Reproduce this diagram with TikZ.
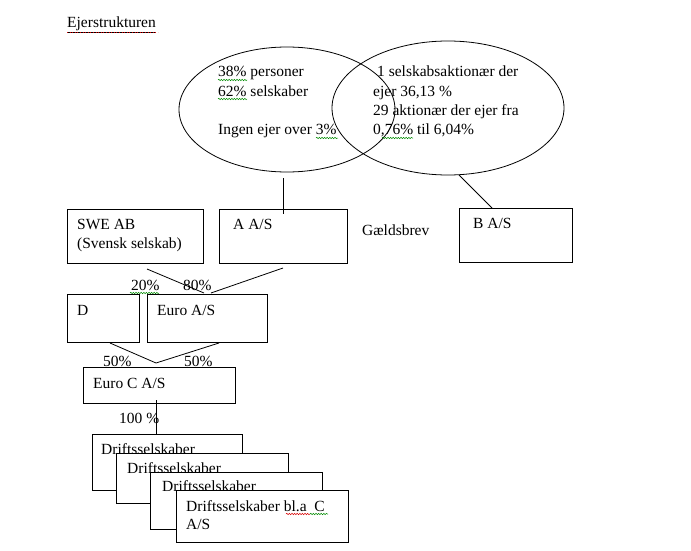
\documentclass[tikz,border=0pt]{standalone}
\usepackage{fontspec}
\setmainfont{Liberation Serif}
\usetikzlibrary{shapes.geometric,decorations.pathmorphing}
\begin{document}
\begin{tikzpicture}[x=1pt,y=-1pt,
  txt/.style={anchor=base west,inner sep=0pt,font=\fontsize{15.5}{19}\selectfont},
  boxs/.style={draw,line width=0.8pt,rectangle,inner sep=0pt,anchor=north west},
  dbox/.style={boxs,fill=white},
  oval/.style={draw,line width=0.8pt,ellipse,inner sep=0pt},
  conn/.style={line width=0.8pt},
  sqg/.style={draw=green!55!black,line width=0.5pt,decorate,decoration={snake,segment length=2.6pt,amplitude=0.7pt}},
  sqr/.style={draw=red!85!black,line width=0.5pt,decorate,decoration={snake,segment length=2.6pt,amplitude=0.7pt}}
]
\useasboundingbox[fill=white] (0,0) rectangle (691,551);

% title
\node[txt] (title) at (67,28) {\underline{Ejerstrukturen}};
\draw[red!85!black,line width=0.6pt,dotted] (67,32) -- (158,32);

% ellipses
\node[oval,minimum width=216,minimum height=125] (e1) at (287,109.5) {};
\node[oval,minimum width=232,minimum height=134] (e2) at (448,108) {};

\node[txt] (t1) at (218,77) {38\% personer};
\node[txt] (t2) at (218,96) {62\% selskaber};
\node[txt] (t3) at (218,134) {Ingen ejer over 3\%};
\node[txt] (u1) at (377,77) {1 selskabsaktionær der};
\node[txt] (u2) at (373,96) {ejer 36,13 \%};
\node[txt] (u3) at (373,115) {29 aktionær der ejer fra};
\node[txt] (u4) at (373,134) {0,76\% til 6,04\%};

% boxes row 1
\node[boxs,minimum width=136,minimum height=54] (swe) at (67,209) {};
\node[txt] (swet) at (77,229) {SWE AB};
\node[txt] (swet2) at (77,248) {(Svensk selskab)};
\node[boxs,minimum width=128,minimum height=54] (aas) at (219,209) {};
\node[txt] (aast) at (233,229) {A A/S};
\node[txt] (gld) at (362,235) {Gældsbrev};
\node[boxs,minimum width=113,minimum height=54] (bas) at (459,208) {};
\node[txt] (bast) at (473,228) {B A/S};

% row 2
\node[txt] (p20) at (131,290) {20\%};
\node[txt] (p80) at (183,290) {80\%};
\node[boxs,minimum width=72,minimum height=48] (dd) at (67,294) {};
\node[txt] (ddt) at (77,315) {D};
\node[boxs,minimum width=120,minimum height=48] (euro) at (147,294) {};
\node[txt] (eurot) at (157,315) {Euro A/S};

% row 3
\node[txt] (p50a) at (103,366) {50\%};
\node[txt] (p50b) at (184,366) {50\%};
\node[boxs,minimum width=152,minimum height=36] (euroc) at (83,367) {};
\node[txt] (euroct) at (93,388) {Euro C A/S};
\node[txt] (p100) at (119,423) {100 \%};

% connector coordinates
\coordinate (c1a) at (283,178);
\coordinate (c1b) at (283,214);
\coordinate (c2a) at (459,175);
\coordinate (c2b) at (492,208);
\coordinate (c3a) at (147,269);
\coordinate (c3b) at (204,293);
\coordinate (c4a) at (283,268);
\coordinate (c4b) at (211,293);
\coordinate (c5a) at (110,343);
\coordinate (c5b) at (219,343);
\coordinate (c5m) at (156,363);
\coordinate (c6a) at (156,400);
\coordinate (c6b) at (156,437);

\draw[conn] (c1a) -- (c1b);
\draw[conn] (c2a) -- (c2b);
\draw[conn] (c3a) -- (c3b);
\draw[conn] (c4a) -- (c4b);
\draw[conn] (c5a) -- (c5m) -- (c5b);
\draw[conn] (c6a) -- (c6b);

% driftsselskaber stack
\node[dbox,minimum width=150,minimum height=56] (d1) at (92,434) {};
\node[txt] (d1t) at (101,454) {Driftsselskaber};
\node[dbox,minimum width=172,minimum height=50] (d2) at (116,453) {};
\node[txt] (d2t) at (127,473) {Driftsselskaber};
\node[dbox,minimum width=172,minimum height=57] (d3) at (150,472) {};
\node[txt] (d3t) at (162,491) {Driftsselskaber};
\node[dbox,minimum width=172,minimum height=52] (d4) at (176,490) {};
\node[txt] (d4t) at (186,511) {Driftsselskaber bl.a\ \ C};
\node[txt] (d4t2) at (186,529) {A/S};

% spelling marks
\path[sqg] (218,80) -- (247,80);
\path[sqg] (218,99) -- (247,99);
\path[sqg] (316,138) -- (338,138);
\path[sqg] (382,138) -- (413,138);
\path[sqg] (130,293) -- (159,293);
\path[sqr] (286,514) -- (310,514);
\path[sqg] (310,514) -- (328,514);
\end{tikzpicture}
\end{document}
